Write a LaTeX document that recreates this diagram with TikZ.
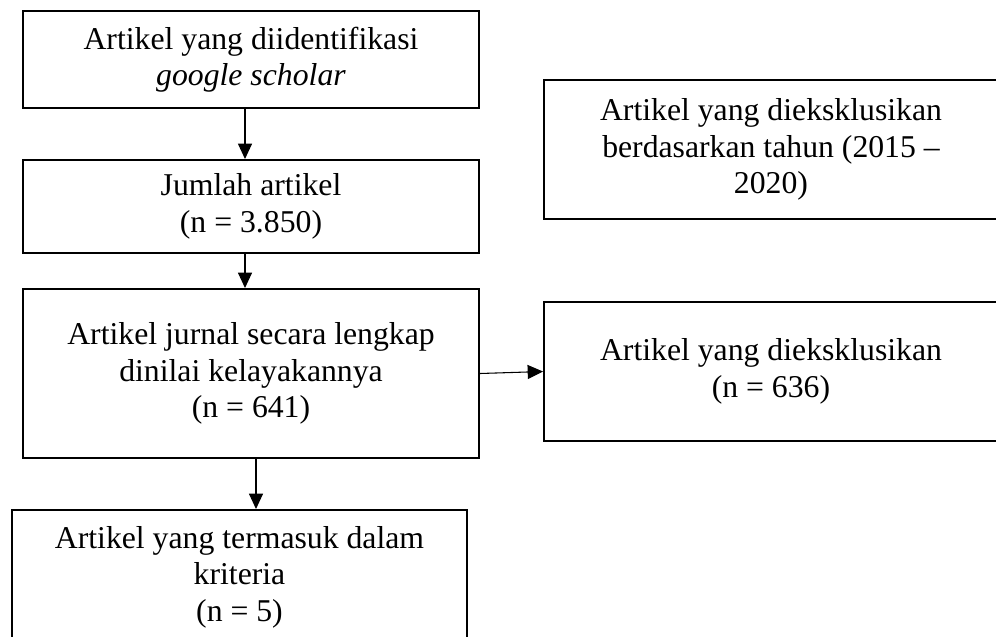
\documentclass[tikz,border=0pt]{standalone}
\usepackage{fontspec}
\setmainfont{Liberation Serif}
\usepackage{tikz}
\usetikzlibrary{arrows.meta}

\begin{document}
\begin{tikzpicture}[x=0.75pt,y=0.75pt,yscale=-1,xscale=1,
    box/.style={draw, line width=1.5pt, inner sep=0pt, align=center,
        font=\fontsize{23.8}{27.4}\selectfont,
        execute at begin node={\rule{0pt}{22pt}}},
    flow/.style={line width=0.8pt, -{Triangle[length=11.5pt,width=10.5pt]}}]
    %set diagram left start at 0, and has height of 636
    \useasboundingbox (0,0) rectangle (996,636);

    %Shape: Rectangle [identifikasi]
    \node [box, minimum width=342pt, minimum height=72.75pt] (ident) at (251,59.5)
        {Artikel yang diidentifikasi\\\textit{google scholar}};
    %Shape: Rectangle [jumlah]
    \node [box, minimum width=342pt, minimum height=69.75pt] (jumlah) at (251,206.5)
        {Jumlah artikel\\ (n = 3.850)};
    %Shape: Rectangle [kelayakan]
    \node [box, minimum width=342pt, minimum height=126.75pt] (layak) at (251,373.5)
        {Artikel jurnal secara lengkap\\dinilai kelayakannya\\(n = 641)};
    %Shape: Rectangle [eksklusi tahun]
    \node [box, minimum width=340.5pt, minimum height=104.25pt] (tahun) at (771,149.5)
        {Artikel yang dieksklusikan\\berdasarkan tahun (2015 –\\2020)};
    %Shape: Rectangle [eksklusi]
    \node [box, minimum width=340.5pt, minimum height=104.25pt] (eksklusi) at (771,371.5)
        {Artikel yang dieksklusikan\\(n = 636)};
    %Shape: Rectangle [termasuk]
    \node [box, minimum width=341.25pt, minimum height=100.5pt] (masuk) at (239.5,577)
        {Artikel yang termasuk dalam\\kriteria\\(n = 5)};

    %Straight Lines
    \draw [flow] ([xshift=-4.5pt]ident.south) -- ([xshift=-4.5pt]jumlah.north);
    \draw [flow] ([xshift=-4.5pt]jumlah.south) -- ([xshift=-4.5pt]layak.north);
    \draw [flow] (layak.east) -- (eksklusi.west);
    \draw [flow] ([xshift=3.75pt]layak.south) -- ([xshift=3.75pt]layak.south |- masuk.north);

\end{tikzpicture}
\end{document}
